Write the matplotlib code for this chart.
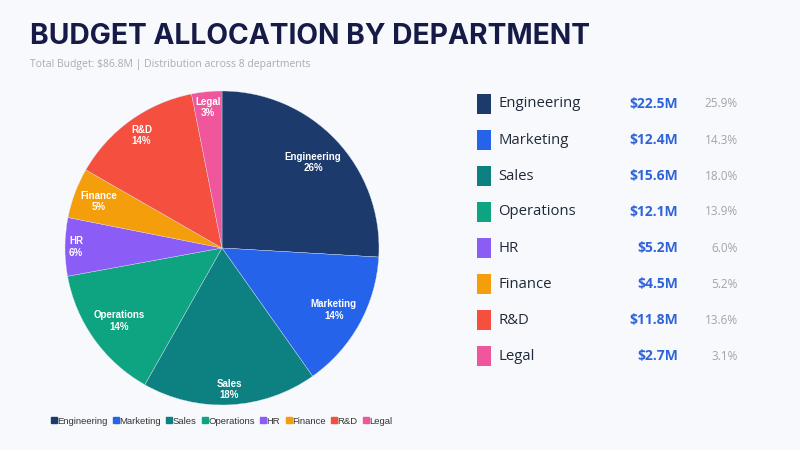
import numpy as np
import matplotlib
matplotlib.use('Agg')
import matplotlib.pyplot as plt
from matplotlib.lines import Line2D
from matplotlib.patches import Rectangle

departments = ['Engineering', 'Marketing', 'Sales', 'Operations', 'HR', 'Finance', 'R&D', 'Legal']
budget_m = [22.5, 12.4, 15.6, 12.1, 5.2, 4.5, 11.8, 2.7]
colors = ['#1c3a6c', '#2563eb', '#0d8082', '#0ea481', '#8b5cf6', '#f59e0b', '#f44f3f', '#f0569c']

total = sum(budget_m)
shares = [v / total * 100 for v in budget_m]

bg = '#f8f9fc'
fig = plt.figure(figsize=(8, 4.5), dpi=100, facecolor=bg)

# title block
fig.text(30 / 800, 1 - 37 / 450, 'BUDGET ALLOCATION BY DEPARTMENT', fontsize=20.3,
         fontweight='bold', color='#161a46', family='Inter', va='center', ha='left')
fig.text(30 / 800, 1 - 65 / 450,
         'Total Budget: $%.1fM | Distribution across %d departments' % (total, len(departments)),
         fontsize=7.5, color='#a8acb4', family='Open Sans', va='center', ha='left')

# pie
R_px = 157
cx, cy = 222, 248
ax = fig.add_axes([(cx - R_px) / 800, (450 - cy - R_px) / 450, 2 * R_px / 800, 2 * R_px / 450])
ax.set_facecolor(bg)
wedges, _ = ax.pie(budget_m, colors=colors, startangle=90, counterclock=False,
                   radius=1.0, wedgeprops=dict(linewidth=0.25, edgecolor='#dfe5ee'))
ax.set_xlim(-1, 1)
ax.set_ylim(-1, 1)
ax.set_aspect('equal')
ax.axis('off')

# labels anchored near the outer edge, text box pulled inward
labels = []
for w, name, s in zip(wedges, departments, shares):
    t = ax.text(0, 0, '%s\n%d%%' % (name, round(s)), ha='center', va='center',
                fontsize=7, fontweight='bold', color='white', family='Liberation Sans',
                linespacing=1.15)
    labels.append((w, t))
fig.canvas.draw()
renderer = fig.canvas.get_renderer()
for w, t in labels:
    ang = np.deg2rad((w.theta1 + w.theta2) / 2)
    bb = t.get_window_extent(renderer)
    proj = abs(np.cos(ang)) * bb.width / 2 + abs(np.sin(ang)) * bb.height / 2
    r = (R_px - 4 - proj) / R_px
    t.set_position((r * np.cos(ang), r * np.sin(ang)))

# bottom legend
handles = [Line2D([], [], marker='s', linestyle='none', markersize=4, color=c) for c in colors]
fig.legend(handles, departments, loc='center', bbox_to_anchor=(222 / 800, 1 - 421 / 450),
           ncol=len(departments), frameon=False, handlelength=0.5, handletextpad=0.1,
           columnspacing=0.65, prop={'family': 'Liberation Sans', 'size': 6.8},
           labelcolor='#333333')

# right-hand table
row0, step = 104, 36
for i, (name, v, s, c) in enumerate(zip(departments, budget_m, shares, colors)):
    y = 1 - (row0 + i * step) / 450
    fig.patches.append(Rectangle((477 / 800, y - 10 / 450), 14 / 800, 20 / 450,
                                 transform=fig.transFigure, facecolor=c, edgecolor='none'))
    fig.text(498 / 800, y, name, fontsize=10.7, color='#1f2937', family='Open Sans',
             va='center', ha='left')
    fig.text(678 / 800, y, '$%.1fM' % v, fontsize=10, fontweight='bold', color='#2f63d8',
             family='Open Sans', va='center', ha='right')
    fig.text(738 / 800, y, '%.1f%%' % s, fontsize=8.5, color='#a0a4ac', family='Open Sans',
             va='center', ha='right')

fig.savefig('out.png', dpi=100, facecolor=bg)
